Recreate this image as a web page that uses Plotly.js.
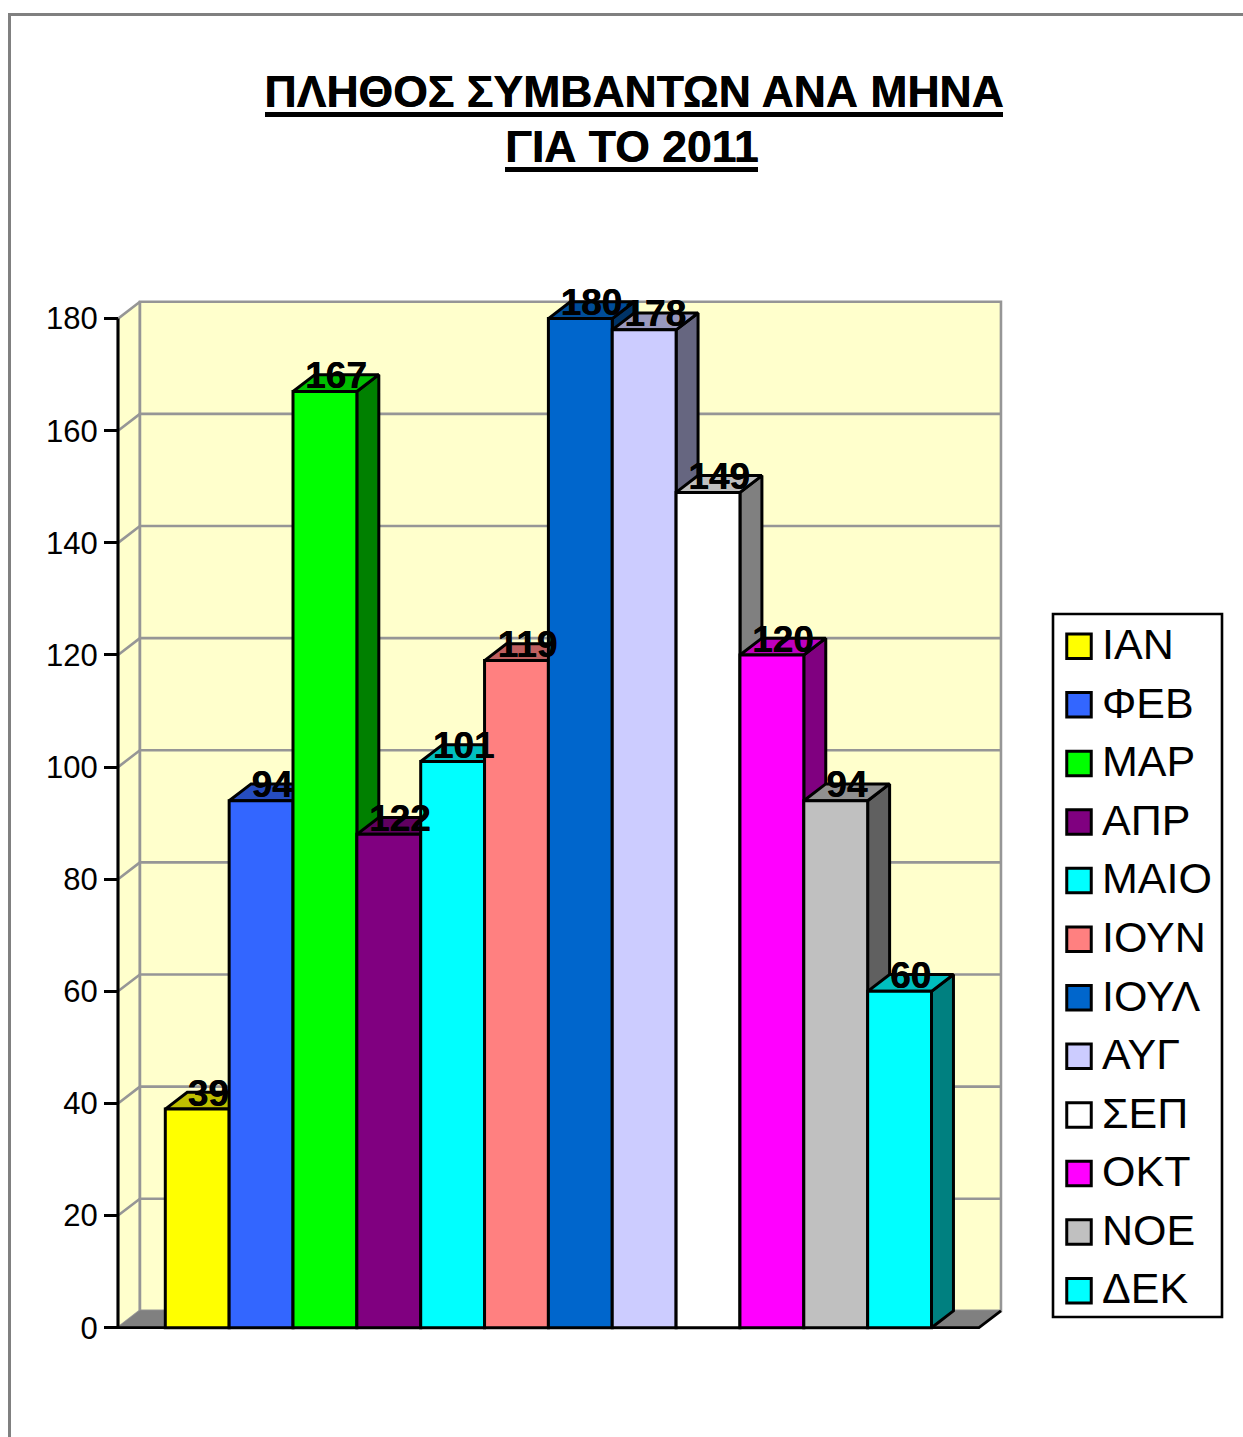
<!DOCTYPE html>
<html><head><meta charset="utf-8">
<script src="https://cdn.plot.ly/plotly-3.0.1.min.js"></script>
<style>html,body{margin:0;padding:0;background:#fff}</style></head>
<body><div id="chart" style="width:1243px;height:1437px"></div>
<script>
const months = ['ΙΑΝ','ΦΕΒ','ΜΑΡ','ΑΠΡ','ΜΑΙΟ','ΙΟΥΝ','ΙΟΥΛ','ΑΥΓ','ΣΕΠ','ΟΚΤ','ΝΟΕ','ΔΕΚ'];
const barHeights = [39,94,167,88,101,119,180,178,149,120,94,60];
const valueLabels = ['39','94','167','122','101','119','180','178','149','120','94','60'];
const colors = ['#FFFF00','#3366FF','#00FF00','#800080','#00FFFF','#FF8080','#0066CC','#CCCCFF','#FFFFFF','#FF00FF','#C0C0C0','#00FFFF'];
const yTicks = [0,20,40,60,80,100,120,140,160,180];

const W = 1243, H = 1437;
const px = v => v / W, py = v => 1 - v / H;
const xAt = p => (p - 165.3) / 63.85, yAt = p => (1327.7 - p) / 5.606;
const depthX = 0.344, depthY = 3.0;
const xLeft = xAt(118), xRight = xAt(979), yMax = 180;
const edge = 3, font = 'Liberation Sans, Arial, sans-serif';
const heavy = '0.45px 0 0 #000';

function shade(hex, f) {
  const n = parseInt(hex.slice(1), 16);
  return `rgb(${Math.round((n>>16&255)*f)},${Math.round((n>>8&255)*f)},${Math.round((n&255)*f)})`;
}
const poly = (x, y, fill, line, w, z) => ({
  type:'scatter', mode:'lines', x, y, fill:'toself', fillcolor:fill,
  line:{color:line||fill, width:w||0}, cliponaxis:false, showlegend:false, hoverinfo:'skip', zorder:z, xaxis:'x', yaxis:'y'
});
const lines = (x, y, color, w, z) => ({
  type:'scatter', mode:'lines', x, y, line:{color, width:w}, cliponaxis:false,
  showlegend:false, hoverinfo:'skip', zorder:z, xaxis:'x', yaxis:'y'
});

const traces = [];
const bx = xLeft + depthX, rx = xRight + depthX;
// walls and floor
traces.push(poly([xLeft,bx,bx,xLeft,xLeft],[0,depthY,yMax+depthY,yMax,0],'#FFFFCC','#969696',2.6,0));
traces.push(poly([bx,rx,rx,bx,bx],[depthY,depthY,yMax+depthY,yMax+depthY,depthY],'#FFFFCC','#969696',2.6,0));
traces.push(poly([xLeft,xRight,rx,bx,xLeft],[0,0,depthY,depthY,0],'#808080','#808080',1,0));
// wall gridlines
const gx = [], gy = [];
yTicks.slice(1,-1).forEach(t => { gx.push(xLeft,bx,rx,null); gy.push(t,t+depthY,t+depthY,null); });
traces.push(lines(gx,gy,'#969696',2.6,0));
// front edges of floor and value axis
traces.push(lines([xLeft,xRight,rx],[0,0,depthY],'#000000',2.8,0));
traces.push(lines([xLeft,xLeft],[0,yMax],'#000000',3,0));
// depth faces
months.forEach((m,i) => {
  const l = i, r = i+1, v = barHeights[i];
  traces.push(poly([r,r+depthX,r+depthX,r,r],[0,depthY,v+depthY,v,0],shade(colors[i],0.5),'#000000',edge,1));
  traces.push(poly([l,l+depthX,r+depthX,r,l],[v,v+depthY,v+depthY,v,v],shade(colors[i],0.75),'#000000',edge,1));
});
// front faces
traces.push({type:'bar', x:months.map((m,i)=>i+0.5), y:barHeights, width:1,
  marker:{color:colors, line:{color:'#000000', width:edge}}, cliponaxis:false,
  showlegend:false, hoverinfo:'skip', zorder:2, xaxis:'x', yaxis:'y'});
// value labels
traces.push({type:'scatter', mode:'text', x:months.map((m,i)=>i+0.5+depthX/2),
  y:barHeights.map(v=>v+depthY-0.75), text:valueLabels, textposition:'middle center',
  textfont:{family:font,size:37,color:'#000000',weight:700,shadow:heavy}, cliponaxis:false,
  showlegend:false, hoverinfo:'skip', zorder:3, xaxis:'x', yaxis:'y'});
// legend
traces.push({type:'scatter', mode:'markers', x:months.map(()=>26), y:months, xaxis:'x2', yaxis:'y2',
  marker:{symbol:'square', size:24.5, color:colors, line:{color:'#000000', width:3}},
  showlegend:false, hoverinfo:'skip'});
traces.push({type:'scatter', mode:'text', x:months.map(()=>49), y:months, xaxis:'x2', yaxis:'y3',
  text:months, textposition:'middle right', textfont:{family:font,size:43,color:'#000000'},
  cliponaxis:false, showlegend:false, hoverinfo:'skip'});

const paperLine = (x0,y0,x1,y1,color,w) => ({type:'line',xref:'paper',yref:'paper',x0:px(x0),y0:py(y0),x1:px(x1),y1:py(y1),line:{color,width:w}});
const legendY = {domain:[py(1317),py(614)], type:'category', categoryorder:'array', categoryarray:months, visible:false, anchor:'x2', fixedrange:true};

const layout = {
  width:W, height:H, margin:{l:0,r:0,t:0,b:0}, paper_bgcolor:'#fff', plot_bgcolor:'rgba(0,0,0,0)',
  showlegend:false, barmode:'overlay',
  title:{text:'<b>ΠΛΗΘΟΣ ΣΥΜΒΑΝΤΩΝ ΑΝΑ ΜΗΝΑ</b>', x:px(634), xanchor:'center', y:py(91), yanchor:'middle',
    font:{family:font,size:44.5,color:'#000000',shadow:heavy}},
  annotations:[{text:'<b>ΓΙΑ ΤΟ 2011</b>', xref:'paper', yref:'paper', x:px(632), y:py(147), xanchor:'center', yanchor:'middle',
    showarrow:false, font:{family:font,size:44.5,color:'#000000',shadow:heavy}}],
  xaxis:{domain:[px(105),px(1012)], range:[xAt(105),xAt(1012)], visible:false, fixedrange:true},
  yaxis:{domain:[py(1336),py(270)], range:[yAt(1336),yAt(270)], tickvals:yTicks, ticktext:yTicks.map(String),
    anchor:'free', position:px(118), side:'left',
    ticks:'outside', ticklen:14, tickwidth:3, tickcolor:'#000000', showgrid:false, zeroline:false, showline:false,
    tickfont:{family:font,size:31,color:'#000000'}, ticklabelstandoff:0, fixedrange:true},
  xaxis2:{domain:[px(1053),px(1222)], range:[0,169], visible:false, anchor:'y2', fixedrange:true},
  yaxis2:Object.assign({range:[11.45,-0.55]}, legendY),
  yaxis3:Object.assign({range:[11.415,-0.585], overlaying:'y2'}, legendY),
  shapes:[
    {type:'rect',xref:'paper',yref:'paper',x0:px(1053),x1:px(1222),y0:py(1317),y1:py(614),line:{color:'#000000',width:2.6},fillcolor:'rgba(0,0,0,0)'},
    paperLine(9.5,14.5,1243,14.5,'#808080',3),
    paperLine(9.5,13,9.5,1437,'#808080',3),
    paperLine(265,114.5,1003,114.5,'#000000',5),
    paperLine(505,169.5,758,169.5,'#000000',5)
  ]
};
Plotly.newPlot('chart', traces, layout, {displayModeBar:false, staticPlot:true});
</script></body></html>
